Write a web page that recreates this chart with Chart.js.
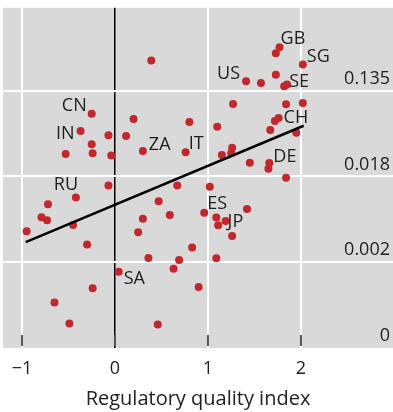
<!DOCTYPE html>
<html>
<head>
<meta charset="utf-8">
<script src="https://cdn.jsdelivr.net/npm/chart.js@4.4.1/dist/chart.umd.min.js"></script>
<style>
  html, body { margin: 0; padding: 0; background: #fff; }
</style>
</head>
<body>
<canvas id="chart" width="393" height="412"></canvas>
<script>
// regulatory quality index (x) and log probability (y), one entry per country
const regQuality = [
  0.39, 1.77, 1.73, 2.02, 1.41, 1.57, 1.73, 1.82, 1.85, 1.27,
  1.84, 2.02, 1.76, 1.72, 1.67, 1.95, 0.80, 1.10, 1.26, 1.25,
  1.15, 1.45, 1.66, 1.65, 1.84, 1.02, 0.67, 0.47, -0.25, 0.20,
  -0.37, -0.07, 0.12, -0.25, -0.53, -0.24, -0.04, 0.30, 0.76, -0.07,
  -0.42, -0.72, -0.79, -0.73, -0.95, -0.45, -0.30, 0.30, 0.59, 0.25,
  0.96, 1.09, 1.11, 1.19, 1.42, 1.26, 0.83, 0.36, 0.69, 1.09,
  0.04, 0.63, 0.90, -0.24, -0.65, -0.49, 0.46
];
const logProb = [
  -1.30, -0.99, -1.13, -1.39, -1.78, -1.82, -1.63, -1.90, -1.86, -2.31,
  -2.32, -2.29, -2.64, -2.71, -2.92, -2.98, -2.73, -2.84, -3.33, -3.46,
  -3.50, -3.68, -3.69, -3.82, -4.03, -4.24, -4.21, -4.58, -2.54, -2.66,
  -2.94, -3.04, -3.06, -3.25, -3.48, -3.46, -3.51, -3.41, -3.44, -4.21,
  -4.49, -4.65, -4.95, -5.02, -5.28, -5.13, -5.59, -4.99, -4.90, -5.30,
  -4.85, -4.96, -5.14, -5.04, -4.76, -5.39, -5.66, -5.90, -5.95, -5.91,
  -6.22, -6.15, -6.58, -6.61, -6.94, -7.43, -7.45
];
const countryCode = [
  '', 'GB', '', 'SG', 'US', '', '', 'SE', '', '',
  '', '', 'CH', '', '', '', '', '', '', '',
  '', '', 'DE', '', '', '', '', '', 'CN', '',
  'IN', '', '', '', '', '', '', 'ZA', 'IT', '',
  'RU', '', '', '', '', '', '', '', '', '',
  'ES', '', '', 'JP', '', '', '', '', '', '',
  'SA', '', '', '', '', '', ''
];
const fitX = [-0.96, 2.03];
const fitY = [-5.53, -2.82];
const xTicks = [-1, 0, 1, 2];
const yTicks = [-8, -6, -4, -2];

// label offsets from the point, in pixels
const labelPos = {
  GB: [1, -8, 'left'],
  SG: [4, -8, 'left'],
  US: [-6, -7, 'right'],
  SE: [5, -4, 'left'],
  CH: [5, 0, 'left'],
  DE: [4, -6, 'left'],
  IT: [3, -8, 'left'],
  ZA: [6, -6, 'left'],
  CN: [-5, -8, 'right'],
  IN: [-6, 3, 'right'],
  RU: [-10, -13, 'center'],
  ES: [3, -9, 'left'],
  JP: [2, 1, 'left'],
  SA: [5, 7, 'left']
};

const FONT = '"Open Sans", "Noto Sans", sans-serif';

const panel = {
  id: 'panel',
  beforeDraw(chart) {
    const { ctx, chartArea: a } = chart;
    ctx.save();
    ctx.fillStyle = '#d9d9d9';
    ctx.fillRect(a.left, a.top, a.right - a.left, a.bottom - a.top);
    ctx.restore();
  },
  beforeDatasetsDraw(chart) {
    const { ctx, chartArea: a, scales } = chart;
    ctx.save();
    ctx.strokeStyle = '#555';
    ctx.lineWidth = 2;
    xTicks.forEach(v => {
      const px = scales.x.getPixelForValue(v);
      ctx.beginPath();
      ctx.moveTo(px, a.bottom - 13);
      ctx.lineTo(px, a.bottom - 2);
      ctx.stroke();
    });
    ctx.restore();
  },
  afterDatasetsDraw(chart) {
    const { ctx } = chart;
    const meta = chart.getDatasetMeta(0);
    ctx.save();
    ctx.font = '18px ' + FONT;
    ctx.fillStyle = '#1e1e1e';
    ctx.textBaseline = 'middle';
    meta.data.forEach((pt, i) => {
      const code = countryCode[i];
      if (!code) return;
      const [dx, dy, align] = labelPos[code];
      ctx.textAlign = align;
      ctx.fillText(code, pt.x + dx, pt.y + dy);
    });
    ctx.restore();
  }
};

new Chart(document.getElementById('chart'), {
  type: 'scatter',
  data: {
    datasets: [{
      data: regQuality.map((x, i) => ({ x: x, y: logProb[i] })),
      backgroundColor: '#c1272d',
      borderWidth: 0,
      pointRadius: 4,
      order: 2
    }, {
      type: 'line',
      data: fitX.map((x, i) => ({ x: x, y: fitY[i] })),
      borderColor: '#000',
      borderWidth: 2.5,
      pointRadius: 0,
      fill: false,
      order: 1
    }]
  },
  options: {
    responsive: false,
    animation: false,
    devicePixelRatio: 1,
    layout: { autoPadding: false, padding: { left: 3, top: 5, right: 0, bottom: 1 } },
    plugins: { legend: { display: false }, tooltip: { enabled: false } },
    scales: {
      x: {
        type: 'linear',
        min: -1.204,
        max: 2.99,
        afterBuildTicks: s => { s.ticks = xTicks.map(v => ({ value: v })); },
        afterFit: s => { s.height = 63; },
        grid: {
          color: c => c.tick && c.tick.value === 0 ? '#000' : '#fff',
          lineWidth: c => c.tick && c.tick.value === 0 ? 1.5 : 2,
          drawTicks: false,
          tickLength: 0
        },
        border: { display: false },
        ticks: {
          padding: 10,
          color: '#222',
          font: { size: 18, family: FONT },
          callback: v => v < 0 ? '\u2212' + Math.abs(v) : String(v)
        },
        title: {
          display: true,
          text: 'Regulatory quality index',
          color: '#222',
          font: { size: 20, family: FONT },
          padding: { top: 6, bottom: 0 }
        }
      },
      y: {
        type: 'linear',
        position: 'right',
        min: -8,
        max: -0.07,
        afterBuildTicks: s => { s.ticks = yTicks.map(v => ({ value: v })); },
        afterFit: s => { s.width = 0; },
        grid: {
          color: c => c.tick && c.tick.value === -8 ? 'rgba(0,0,0,0)' : '#fff',
          lineWidth: 2,
          drawTicks: false,
          tickLength: 0
        },
        border: { display: false },
        ticks: {
          mirror: true,
          padding: -3,
          labelOffset: -12,
          color: '#222',
          font: { size: 18, family: FONT },
          callback: v => String(+Math.exp(v).toFixed(3))
        }
      }
    }
  },
  plugins: [panel]
});
</script>
</body>
</html>
